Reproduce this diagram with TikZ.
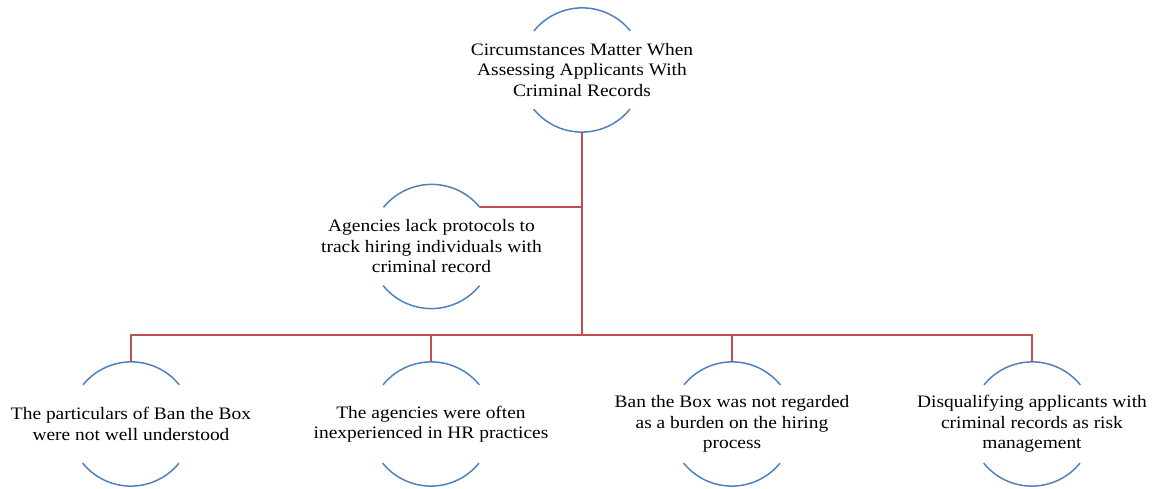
\documentclass[tikz,border=0pt]{standalone}
\usepackage{fontspec}
\setmainfont[FakeStretch=1.11]{Liberation Serif}
\definecolor{arcblue}{HTML}{4F81BD}
\definecolor{linkred}{HTML}{C0504D}
\begin{document}
\begin{tikzpicture}[x=1pt,y=1pt,
  holder/.style={circle,draw=none,minimum size=124pt,inner sep=0pt},
  label/.style={align=center,font=\fontsize{17.5}{20.5}\selectfont,text=black},
  arcline/.style={draw=arcblue,line width=1.5pt},
  link/.style={draw=linkred,line width=2pt}]
\useasboundingbox (0,0) rectangle (1160,489);
% circle holders
\node[holder] (top) at (582,419) {};
\node[holder] (mid) at (431.5,242.5) {};
\node[holder] (b1) at (131,65) {};
\node[holder] (b2) at (431,65) {};
\node[holder] (b3) at (732,65) {};
\node[holder] (b4) at (1032,65) {};
% texts
\node[label] (ttop) at (top.center) {Circumstances Matter When\\Assessing Applicants With\\Criminal Records};
\node[label] (tmid) at (mid.center) {Agencies lack protocols to\\track hiring individuals with\\criminal record};
\node[label] (tb1) at (b1.center) {The particulars of Ban the Box\\were not well understood};
\node[label] (tb2) at (b2.center) {The agencies were often\\inexperienced in HR practices};
\node[label] (tb3) at (b3.center) {Ban the Box was not regarded\\as a burden on the hiring\\process};
\node[label] (tb4) at (b4.center) {Disqualifying applicants with\\criminal records as risk\\management};
% arcs
\foreach \n in {top,mid,b1,b2,b3,b4}{
  \draw[arcline] (\n.39) arc[start angle=39,end angle=141,radius=62pt];
  \draw[arcline] (\n.219) arc[start angle=219,end angle=321,radius=62pt];
}
% connectors
\coordinate (bus) at (582,154);
\draw[link] (top.south) -- (bus);
\draw[link] (mid.39) -- (mid.39 -| bus);
\draw[link] (bus) -| (b1.north);
\draw[link] (bus) -| (b2.north);
\draw[link] (bus) -| (b3.north);
\draw[link] (bus) -| (b4.north);
\end{tikzpicture}
\end{document}
